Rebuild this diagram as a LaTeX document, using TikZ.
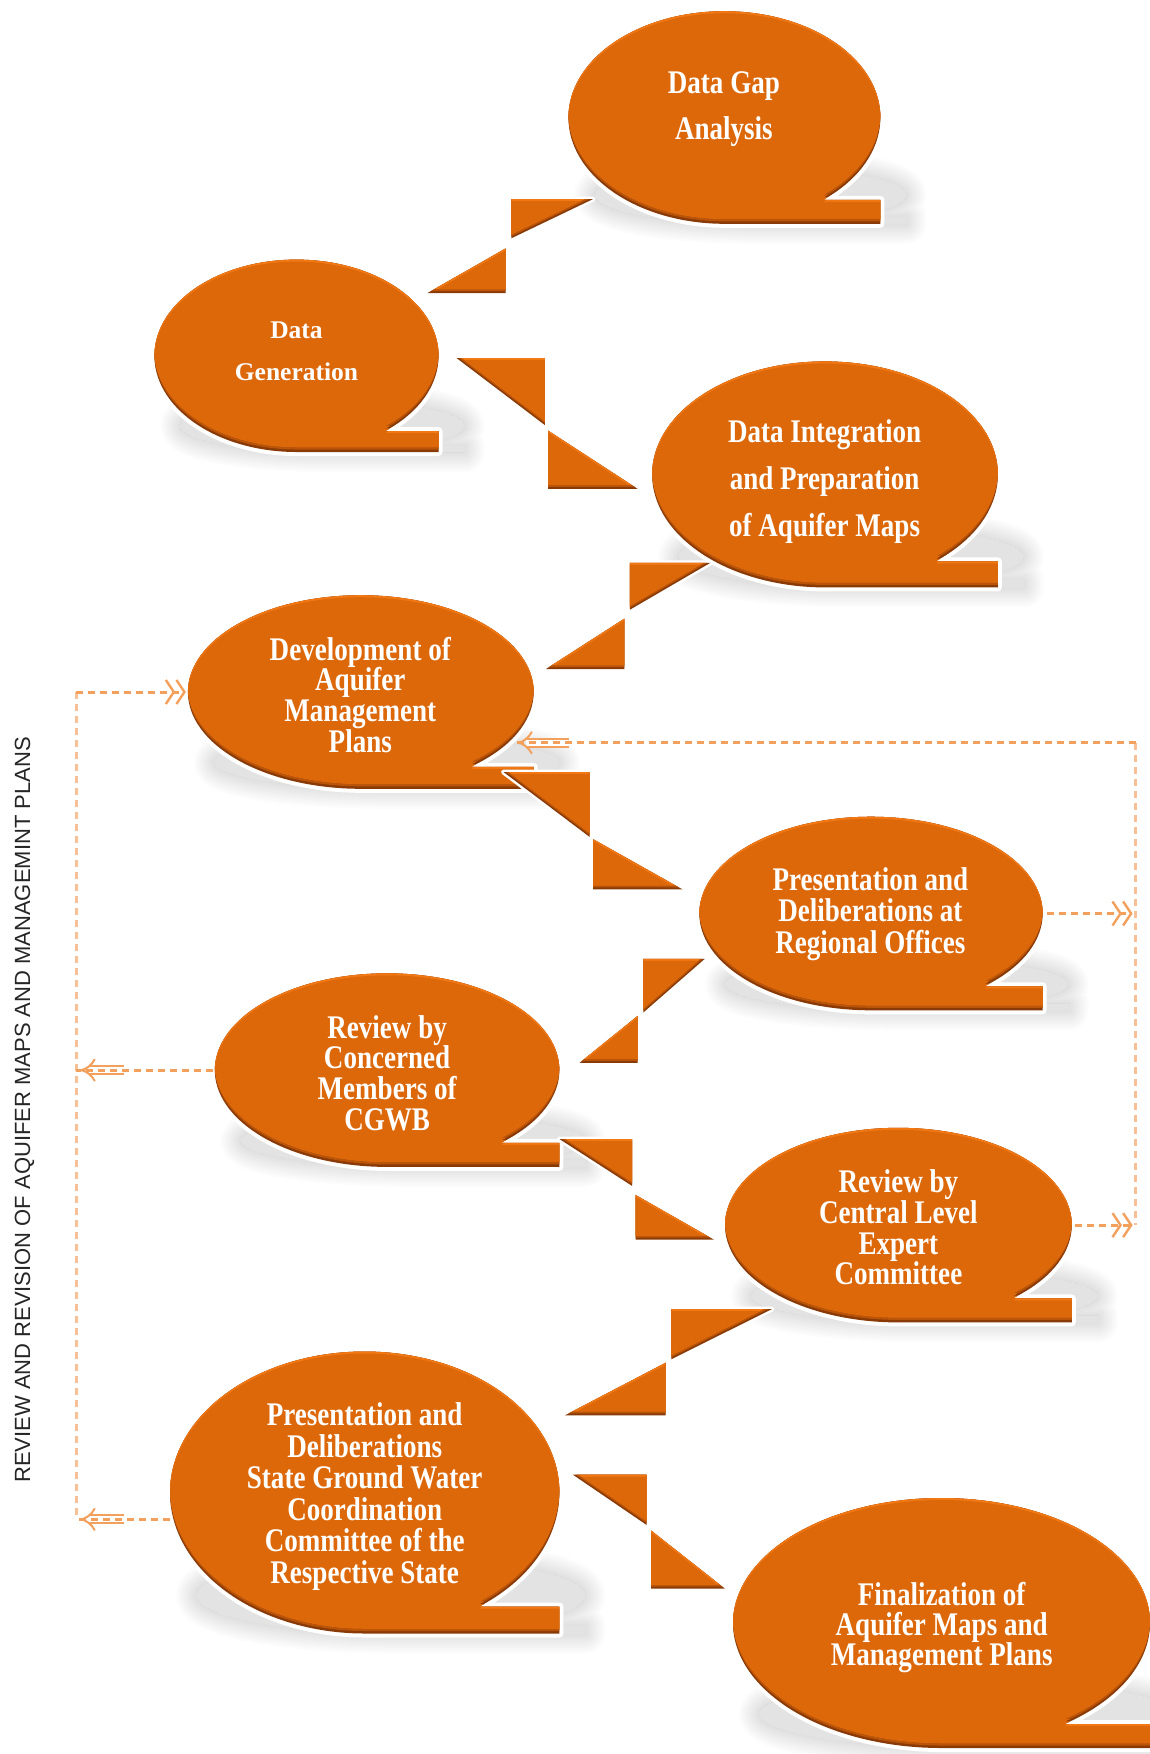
\documentclass[tikz,border=0pt]{standalone}
\usepackage{fontspec}
\setmainfont{Liberation Serif}
\newfontfamily\bubblefont[FakeStretch=0.82]{Liberation Serif}
\newfontfamily\plainbubblefont{Liberation Serif}
\newfontfamily\sidefont{Liberation Sans}
\usetikzlibrary{arrows.meta,calc,shapes.geometric}

\definecolor{orangeMain}{RGB}{221,104,10}
\definecolor{orangeLight}{RGB}{242,120,20}
\definecolor{orangeMid}{RGB}{186,84,8}
\definecolor{orangeDark}{RGB}{138,58,6}
\definecolor{dotc}{RGB}{243,160,92}
\definecolor{railc}{RGB}{248,192,150}

% outline of a rounded callout: ellipse with a flat bar at its lower right
% #1 cx, #2 cy (downwards), #3 rx, #4 ry, #5 bar height
\newcommand\setbubble[5]{%
  \pgfmathsetmacro\bbt{-asin((#4-#5)/#4)}%
  \pgfmathsetmacro\bbx{#1+#3*cos(\bbt)}%
  \pgfmathsetmacro\bbtop{-#2-#4+#5}%
  \pgfmathsetmacro\bbbot{-#2-#4}%
  \pgfmathsetmacro\bbbotpos{#2+#4}%
  \pgfmathsetmacro\bbr{#1+#3}%
  \def\bbcx{#1}%
  \edef\bbpath{(\bbr,\bbtop) -- (\bbx,\bbtop) arc[start angle=\bbt, end angle=270, x radius=#3pt, y radius=#4pt] -- (\bbr,\bbbot) -- cycle}%
}

% soft ground shadow of a callout: flat core plus a fading rim outside it
\newcommand\bubbleshadow[5]{%
  \setbubble{#1}{#2}{#3}{#4}{#5}%
  \begin{scope}[shift={(\bbcx+26,\bbbot)}, yscale=0.27, shift={(-\bbcx,\bbbotpos)}]
    \fill[black, opacity=0.11] \bbpath;
    \begin{scope}[even odd rule]
      \clip (\bbcx-700,-\bbbotpos-900) rectangle (\bbcx+700,-\bbbotpos+900) \bbpath;
      \foreach \w in {4,8,...,40}{%
        \draw[black, opacity=0.011, line width=\w pt, line join=round] \bbpath;}
    \end{scope}
  \end{scope}%
}

% bevelled orange body of a callout
\newcommand\bubblebody[5]{%
  \setbubble{#1}{#2}{#3}{#4}{#5}%
  \draw[white, line width=8pt, line join=round] \bbpath;
  \begin{scope}
    \clip \bbpath;
    \fill[orangeDark] (-50,50) rectangle (1200,-1800);
    \begin{scope}[yshift=2.5pt]
      \clip \bbpath;
      \fill[orangeMid] (-50,50) rectangle (1200,-1800);
      \begin{scope}[yshift=2.5pt]
        \clip \bbpath;
        \fill[orangeLight] (-50,50) rectangle (1200,-1800);
        \begin{scope}[yshift=-7pt]
          \clip \bbpath;
          \fill[orangeMain] (-50,50) rectangle (1200,-1800);
        \end{scope}
      \end{scope}
    \end{scope}
  \end{scope}%
}

% bevelled right triangle of a step connector
\newcommand\wedgetri[3]{%
  \def\tpath{(#1) -- (#2) -- (#3) -- cycle}%
  \draw[white, line width=5pt, line join=round] \tpath;
  \begin{scope}
    \clip \tpath;
    \fill[orangeDark] (-50,50) rectangle (1200,-1800);
    \begin{scope}[yshift=2pt]
      \clip \tpath;
      \fill[orangeMid] (-50,50) rectangle (1200,-1800);
      \begin{scope}[yshift=2pt]
        \clip \tpath;
        \fill[orangeLight] (-50,50) rectangle (1200,-1800);
        \begin{scope}[yshift=-6pt]
          \clip \tpath;
          \fill[orangeMain] (-50,50) rectangle (1200,-1800);
        \end{scope}
      \end{scope}
    \end{scope}
  \end{scope}%
}

\tikzset{
  frame/.style={ellipse, inner sep=0pt, outer sep=0pt, draw=none},
  btext/.style={text=white, align=center, inner sep=0pt,
    font=\bubblefont\bfseries\fontsize{33}{30.6}\selectfont},
  dchev/.tip={Straight Barb[length=8pt,width=24pt,line width=2.4pt]
              Straight Barb[length=8pt,width=24pt,line width=2.4pt]},
  dotline/.style={draw=dotc, line width=3pt, dash pattern=on 7pt off 5pt},
  railline/.style={draw=railc, line width=3pt, dash pattern=on 7pt off 5pt},
  boxtip/.style={draw=dotc, line width=2pt, double=white,
    double distance=6pt, -{Implies}},
}

\begin{document}
\begin{tikzpicture}[x=1pt, y=1pt]
\useasboundingbox (0,0) rectangle (1149,-1754);
\fill[white] (0,0) rectangle (1149,-1754);

% shadows
\bubbleshadow{724.4}{117.5}{156}{106.3}{24}
\bubbleshadow{296.5}{355.8}{142.1}{96.2}{21}
\bubbleshadow{825}{474.4}{172.9}{113}{26}
\bubbleshadow{360.8}{692}{172.9}{96.8}{22}
\bubbleshadow{871}{913.5}{171.7}{96.8}{24}
\bubbleshadow{387.1}{1070.1}{172.3}{96.8}{24}
\bubbleshadow{898.4}{1225.1}{173.4}{97.3}{24}
\bubbleshadow{364.7}{1492.5}{194.7}{141}{27}
\bubbleshadow{941.5}{1623}{208.5}{125}{24}

% callout bodies
\bubblebody{724.4}{117.5}{156}{106.3}{24}
\bubblebody{296.5}{355.8}{142.1}{96.2}{21}
\bubblebody{825}{474.4}{172.9}{113}{26}
\bubblebody{360.8}{692}{172.9}{96.8}{22}
\bubblebody{871}{913.5}{171.7}{96.8}{24}
\bubblebody{387.1}{1070.1}{172.3}{96.8}{24}
\bubblebody{898.4}{1225.1}{173.4}{97.3}{24}
\bubblebody{364.7}{1492.5}{194.7}{141}{27}
\bubblebody{941.5}{1623}{208.5}{125}{24}

% anchor frames of the callouts
\node[frame, minimum width=312pt,   minimum height=212.6pt] (gap)      at (724.4,-117.5) {};
\node[frame, minimum width=284.2pt, minimum height=192.4pt] (gen)      at (296.5,-355.8) {};
\node[frame, minimum width=345.8pt, minimum height=226pt]   (integ)    at (825,-474.4) {};
\node[frame, minimum width=345.8pt, minimum height=193.6pt] (dev)      at (360.8,-692) {};
\node[frame, minimum width=343.4pt, minimum height=193.6pt] (regional) at (871,-913.5) {};
\node[frame, minimum width=344.6pt, minimum height=193.6pt] (cgwb)     at (387.1,-1070.1) {};
\node[frame, minimum width=346.8pt, minimum height=194.6pt] (central)  at (898.4,-1225.1) {};
\node[frame, minimum width=389.4pt, minimum height=282pt]   (state)    at (364.7,-1492.5) {};
\node[frame, minimum width=417pt,   minimum height=250pt]   (final)    at (941.5,-1623) {};

% step connectors between the callouts
\wedgetri{511.3,-199.1}{593,-199.1}{511.3,-238.3}
\wedgetri{427.4,-293.1}{505.7,-293.1}{505.7,-248.4}
\wedgetri{456.5,-358}{544.9,-358}{544.9,-425.1}
\wedgetri{548.2,-430.7}{548.2,-488.9}{637.7,-488.9}
\wedgetri{629.9,-562.8}{710.4,-562.8}{629.9,-609.7}
\wedgetri{546,-669}{624.3,-669}{624.3,-618.7}
\wedgetri{503.5,-772}{589.6,-772}{589.6,-836.9}
\wedgetri{593,-839.1}{593,-889.4}{682.5,-889.4}
\wedgetri{643.3,-958.8}{704.8,-958.8}{643.3,-1012.5}
\wedgetri{579.5,-1062.9}{637.7,-1062.9}{637.7,-1015.9}
\wedgetri{559.4,-1139}{632.1,-1139}{632.1,-1185.9}
\wedgetri{635.5,-1194.9}{635.5,-1239.6}{713.8,-1239.6}
\wedgetri{671.3,-1309}{772,-1309}{671.3,-1359.3}
\wedgetri{565,-1415.3}{665.7,-1415.3}{665.7,-1362.7}
\wedgetri{572.8,-1474.6}{646.7,-1474.6}{646.7,-1525}
\wedgetri{651.1,-1530.5}{651.1,-1588.7}{725,-1588.7}

% texts
\node[btext, font=\bubblefont\bfseries\fontsize{33}{46}\selectfont] (gap-t) at (723.9,-109.1) {Data Gap\\Analysis};
\node[btext, font=\plainbubblefont\bfseries\fontsize{25.5}{42.6}\selectfont] (gen-t) at (296.5,-351.3) {Data\\Generation};
\node[btext, font=\bubblefont\bfseries\fontsize{33}{47}\selectfont] (integ-t) at (824.6,-481.1) {Data Integration\\and Preparation\\of Aquifer Maps};
\node[btext] (dev-t) at (360.3,-694.8) {Development of\\Aquifer\\Management\\Plans};
\node[btext, font=\bubblefont\bfseries\fontsize{33}{31.3}\selectfont] (regional-t) at (870.4,-914.1) {Presentation and\\Deliberations at\\Regional Offices};
\node[btext] (cgwb-t) at (387.1,-1073) {Review by\\Concerned\\Members of\\CGWB};
\node[btext] (central-t) at (898.4,-1227.4) {Review by\\Central Level\\Expert\\Committee};
\node[btext, font=\bubblefont\bfseries\fontsize{33}{31.5}\selectfont] (state-t) at (364.7,-1496.4) {Presentation and\\Deliberations\\State Ground Water\\Coordination\\Committee of the\\Respective State};
\node[btext, font=\bubblefont\bfseries\fontsize{33}{30}\selectfont] (final-t) at (941.7,-1627.3) {Finalization of\\Aquifer Maps and\\Management Plans};

% review and revision loops
\coordinate (railL) at (76,-700);
\coordinate (railR) at (1135.6,-900);
\coordinate (devtip) at ($(dev.341)+(9,0)$);

\draw[railline] (railL |- dev.west) -- (railL |- state.188);
\draw[railline] (railR |- dev.341) -- (railR |- central.east);

\draw[dotline, -{dchev}, shorten >=2pt] (railL |- dev.west) -- (dev.west);

\draw[boxtip] ($(railL |- cgwb.west)+(48,0)$) -- ($(railL |- cgwb.west)+(4,0)$);
\draw[dotline] ($(cgwb.west)+(-2,0)$) -- (railL |- cgwb.west);

\draw[boxtip] ($(railL |- state.188)+(48,0)$) -- ($(railL |- state.188)+(4,0)$);
\draw[dotline] ($(state.188)+(-4,0)$) -- (railL |- state.188);

\draw[boxtip] ($(devtip)+(52,0)$) -- (devtip);
\draw[dotline] (railR |- dev.341) -- (devtip);

\draw[dotline, -{dchev}, shorten >=3pt] ($(regional.east)+(4,0)$) -- (railR |- regional.east);
\draw[dotline, -{dchev}, shorten >=3pt] ($(central.east)+(3,0)$) -- (railR |- central.east);

% side caption
\node[rotate=90, inner sep=0pt, text=black!85, font=\sidefont\fontsize{22}{22}\selectfont] (caption) at (24.6,-1110)
  {REVIEW AND REVISION OF AQUIFER MAPS AND MANAGEMINT PLANS};
\end{tikzpicture}
\end{document}
